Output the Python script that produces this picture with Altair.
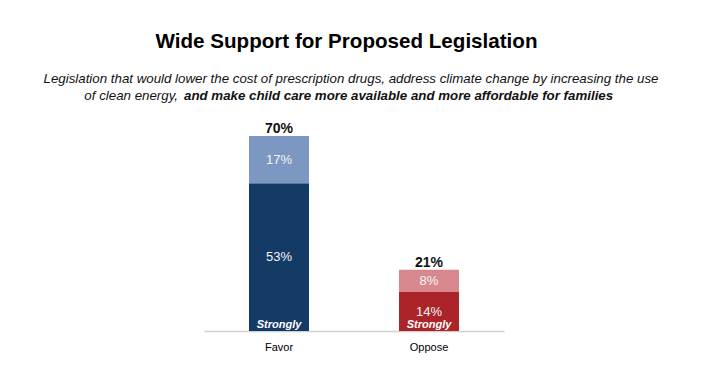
import altair as alt
import pandas as pd

# ---- data ----
categories = ["Favor", "Favor", "Oppose", "Oppose"]
segments = ["Strongly", "Somewhat", "Strongly", "Somewhat"]
seg_keys = ["Favor-Strongly", "Favor-Somewhat", "Oppose-Strongly", "Oppose-Somewhat"]
values = [53, 17, 14, 8]
seg_labels = ["53%", "17%", "14%", "8%"]
total_cats = ["Favor", "Oppose"]
total_values = [70, 22]
total_labels = ["70%", "21%"]
strongly_text = ["Strongly", "Strongly"]
colors = ["#143a66", "#7c97c1", "#ab2429", "#d7888e"]

title_text = ["Wide Support for Proposed Legislation"]
sub_line1 = ["Legislation that would lower the cost of prescription drugs, address climate change by increasing the use"]
sub_line2a = ["of clean energy,"]
sub_line2b = ["and make child care more available and more affordable for families"]

FONT = "Liberation Sans"

# derived table
rows = []
cum = {}
for c, s, k, v, l in zip(categories, segments, seg_keys, values, seg_labels):
    y0 = cum.get(c, 0)
    y1 = y0 + v
    cum[c] = y1
    rows.append({"cat": c, "seg": s, "key": k, "v": v, "y0": y0, "y1": y1,
                 "mid": (y0 + y1) / 2, "label": l})
df = pd.DataFrame(rows)
tot = pd.DataFrame({"cat": total_cats, "v": total_values, "label": total_labels})
strong = pd.DataFrame({"cat": total_cats, "t": strongly_text})

xenc = alt.X("cat:N", sort=total_cats, title=None,
             scale=alt.Scale(paddingInner=0.6, paddingOuter=0.3),
             axis=alt.Axis(labelAngle=0, ticks=False, domainColor="#d0d0d0",
                           domainWidth=1.5, labelFont=FONT, labelFontSize=11,
                           labelColor="#000000", labelPadding=10))
yscale = alt.Scale(domain=[0, 70], nice=False)

base = alt.Chart(df)
bars = base.mark_bar().encode(
    x=xenc,
    y=alt.Y("y0:Q", scale=yscale, axis=None),
    y2="y1:Q",
    color=alt.Color("key:N", scale=alt.Scale(domain=seg_keys, range=colors), legend=None),
)
seglab = base.mark_text(font=FONT, fontSize=13, color="#f4f4f4", baseline="middle").encode(
    x=alt.X("cat:N", sort=total_cats),
    y=alt.Y("mid:Q", scale=yscale),
    text="label:N",
)
totlab = alt.Chart(tot).mark_text(font=FONT, fontSize=14, fontWeight="bold",
                                  color="#111111", baseline="alphabetic", dy=-3).encode(
    x=alt.X("cat:N", sort=total_cats),
    y=alt.Y("v:Q", scale=yscale),
    text="label:N",
)
stronglab = alt.Chart(strong).mark_text(font=FONT, fontSize=11, fontWeight="bold",
                                        fontStyle="italic", color="white",
                                        baseline="alphabetic", dy=-3).encode(
    x=alt.X("cat:N", sort=total_cats),
    y=alt.value(195),
    text="t:N",
)

title = alt.Chart(pd.DataFrame({"t": title_text})).mark_text(
    font=FONT, fontSize=20.6, fontWeight="bold", color="#000000",
    align="center", baseline="alphabetic").encode(
    x=alt.value(142.5), y=alt.value(-88), text="t:N")
s1 = alt.Chart(pd.DataFrame({"t": sub_line1})).mark_text(
    font=FONT, fontSize=13.3, fontStyle="italic", color="#111111",
    align="center", baseline="alphabetic").encode(
    x=alt.value(147), y=alt.value(-53), text="t:N")
s2a = alt.Chart(pd.DataFrame({"t": sub_line2a})).mark_text(
    font=FONT, fontSize=13.3, fontStyle="italic", color="#111111",
    align="right", baseline="alphabetic").encode(
    x=alt.value(-26), y=alt.value(-36), text="t:N")
s2b = alt.Chart(pd.DataFrame({"t": sub_line2b})).mark_text(
    font=FONT, fontSize=13.3, fontStyle="italic", fontWeight="bold", color="#111111",
    align="left", baseline="alphabetic").encode(
    x=alt.value(-20), y=alt.value(-36), text="t:N")

chart = alt.layer(bars, seglab, totlab, stronglab, title, s1, s2a, s2b).properties(
    width=300, height=195,
    autosize=alt.AutoSizeParams(type="none"),
    padding={"left": 196, "top": 128, "right": 210, "bottom": 43},
    background="white",
).configure_view(stroke=None)

chart.save("out.html", embed_options={"renderer": "svg", "actions": False})
